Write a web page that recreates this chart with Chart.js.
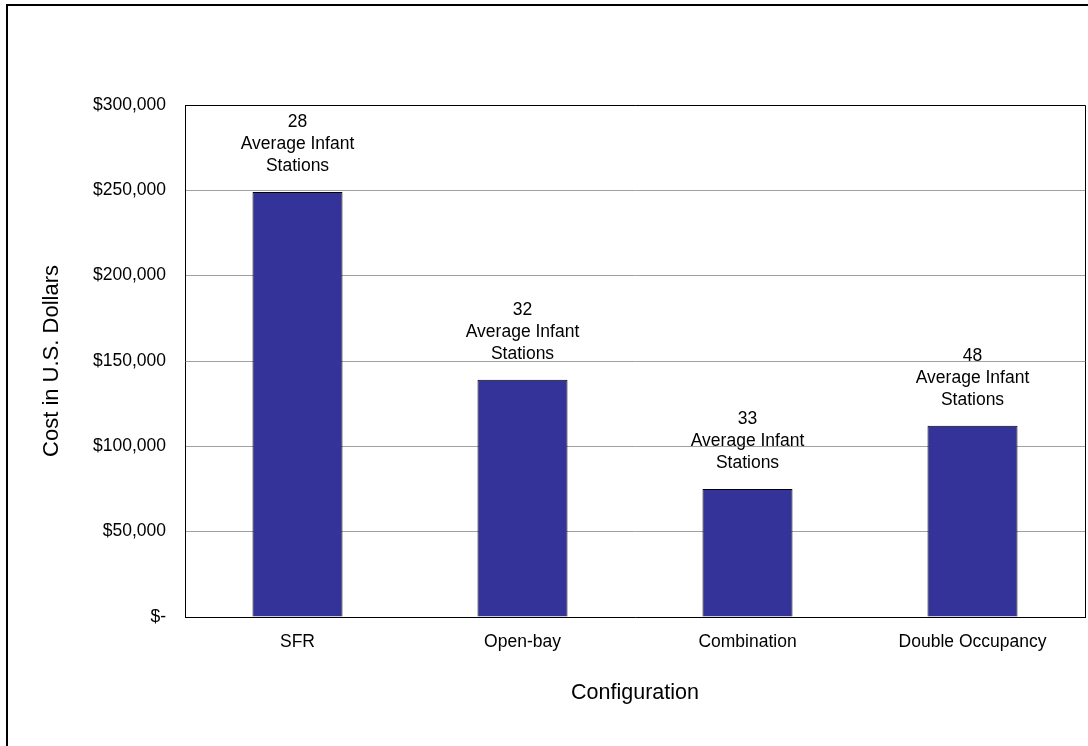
<!DOCTYPE html>
<html>
<head>
<meta charset="utf-8">
<script src="https://cdn.jsdelivr.net/npm/chart.js@4"></script>
<style>
  html, body { margin: 0; padding: 0; background: #fff; }
  #wrap { width: 1088px; height: 746px; position: relative; }
</style>
</head>
<body>
<div id="wrap"><canvas id="chart"></canvas></div>
<script>
const configurations = ['SFR', 'Open-bay', 'Combination', 'Double Occupancy'];
const costs = [249000, 139000, 75000, 112000];
const stations = [28, 32, 33, 48];

const fontFamily = '"Liberation Sans", Arial, sans-serif';

// outer frame + top/right edges of the plot box
const framePlugin = {
    id: 'frame',
    afterDraw: (chart) => {
        const ctx = chart.ctx, a = chart.chartArea;
        ctx.save();
        ctx.strokeStyle = '#000';
        ctx.lineWidth = 2;
        ctx.strokeRect(7, 5, 1200, 900);
        ctx.lineWidth = 1;
        ctx.beginPath();
        ctx.moveTo(a.left, Math.round(a.top) + 0.5);
        ctx.lineTo(Math.round(a.right) + 0.5, Math.round(a.top) + 0.5);
        ctx.lineTo(Math.round(a.right) + 0.5, a.bottom);
        ctx.stroke();
        ctx.restore();
    }
};

// "NN / Average Infant / Stations" above each bar
const stationLabels = {
    id: 'stationLabels',
    afterDatasetsDraw: (chart) => {
        const ctx = chart.ctx;
        const meta = chart.getDatasetMeta(0);
        ctx.save();
        ctx.fillStyle = '#000';
        ctx.font = '17.5px ' + fontFamily;
        ctx.textAlign = 'center';
        ctx.textBaseline = 'middle';
        meta.data.forEach((bar, i) => {
            const lines = [String(stations[i]), 'Average Infant', 'Stations'];
            const last = bar.y - 26;
            lines.forEach((t, j) => {
                ctx.fillText(t, bar.x, last - (lines.length - 1 - j) * 22);
            });
        });
        ctx.restore();
    }
};

new Chart(document.getElementById('chart'), {
    type: 'bar',
    data: {
        labels: configurations,
        datasets: [{
            data: costs,
            backgroundColor: '#333399',
            borderColor: '#000',
            borderWidth: 1,
            categoryPercentage: 1,
            barPercentage: 0.4
        }]
    },
    options: {
        responsive: true,
        maintainAspectRatio: false,
        animation: false,
        layout: { padding: { top: 105, right: 3, left: 0, bottom: 0 } },
        plugins: {
            legend: { display: false },
            tooltip: { enabled: false }
        },
        scales: {
            x: {
                grid: { display: false, drawTicks: false },
                border: { color: '#000' },
                ticks: { color: '#000', font: { family: fontFamily, size: 17.5 }, padding: 15 },
                title: {
                    display: true,
                    text: 'Configuration',
                    color: '#000',
                    font: { family: fontFamily, size: 21.5 },
                    padding: { top: 0, bottom: 40 }
                },
                afterFit: (scale) => { scale.height = 129; }
            },
            y: {
                min: 0,
                max: 300000,
                grid: { color: '#a0a0a0', drawTicks: false },
                border: { color: '#000' },
                ticks: {
                    stepSize: 50000,
                    color: '#000',
                    padding: 19,
                    font: { family: fontFamily, size: 17.5 },
                    callback: (v) => v === 0 ? '$-' : '$' + v.toLocaleString('en-US')
                },
                title: {
                    display: true,
                    text: 'Cost in U.S. Dollars',
                    color: '#000',
                    font: { family: fontFamily, size: 22 },
                    padding: { top: 39, bottom: 0 }
                },
                afterFit: (scale) => { scale.width = 185; }
            }
        }
    },
    plugins: [framePlugin, stationLabels]
});
</script>
</body>
</html>
